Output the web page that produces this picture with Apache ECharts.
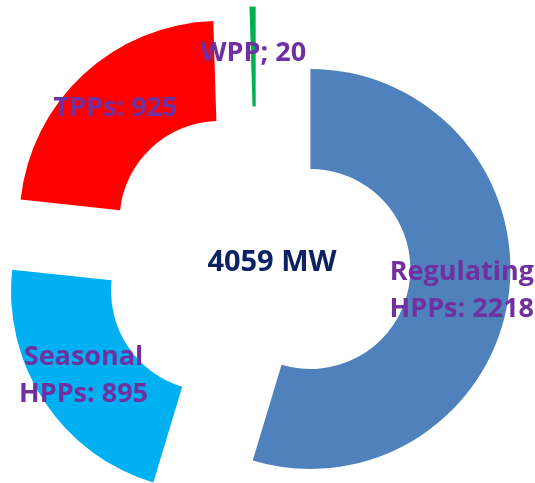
<!DOCTYPE html>
<html>
<head>
<meta charset="utf-8">
<script src="https://cdn.jsdelivr.net/npm/echarts@6/dist/echarts.min.js"></script>
<style>html,body{margin:0;padding:0;background:#fff}#c{width:535px;height:483px}</style>
</head>
<body>
<div id="c"></div>
<script>
const categories = ['Regulating\nHPPs', 'Seasonal\nHPPs', 'TPPs', 'WPP'];
const values = [2218, 895, 925, 20];
const separators = [': ', ': ', ': ', '; '];
const colors = ['#4F81BD', '#00B0F0', '#FF0000', '#00B050'];
const totalLabel = '4059 MW';

const FONT = '"Open Sans", "Noto Sans", sans-serif';
const chart = echarts.init(document.getElementById('c'));
chart.setOption({
  animation: false,
  graphic: [{
    type: 'text', x: 272, y: 263,
    style: {
      text: totalLabel, fill: '#0B2363',
      fontFamily: FONT, fontWeight: 'bold', fontSize: 29,
      align: 'center', verticalAlign: 'middle'
    }
  }],
  series: [{
    type: 'pie',
    center: [256.5, 261],
    radius: [100, 200],
    startAngle: 90,
    clockwise: true,
    selectedMode: 'multiple',
    selectedOffset: 54.5,
    avoidLabelOverlap: false,
    emphasis: { disabled: true },
    label: {
      show: true,
      position: 'inside',
      color: '#7030A0',
      fontFamily: FONT,
      fontWeight: 'bold',
      fontSize: 27,
      lineHeight: 37,
      formatter: p => p.name + separators[p.dataIndex] + p.value
    },
    labelLine: { show: false },
    data: categories.map((c, i) => ({
      name: c, value: values[i], selected: true,
      itemStyle: { color: colors[i] }
    }))
  }]
});
</script>
</body>
</html>
